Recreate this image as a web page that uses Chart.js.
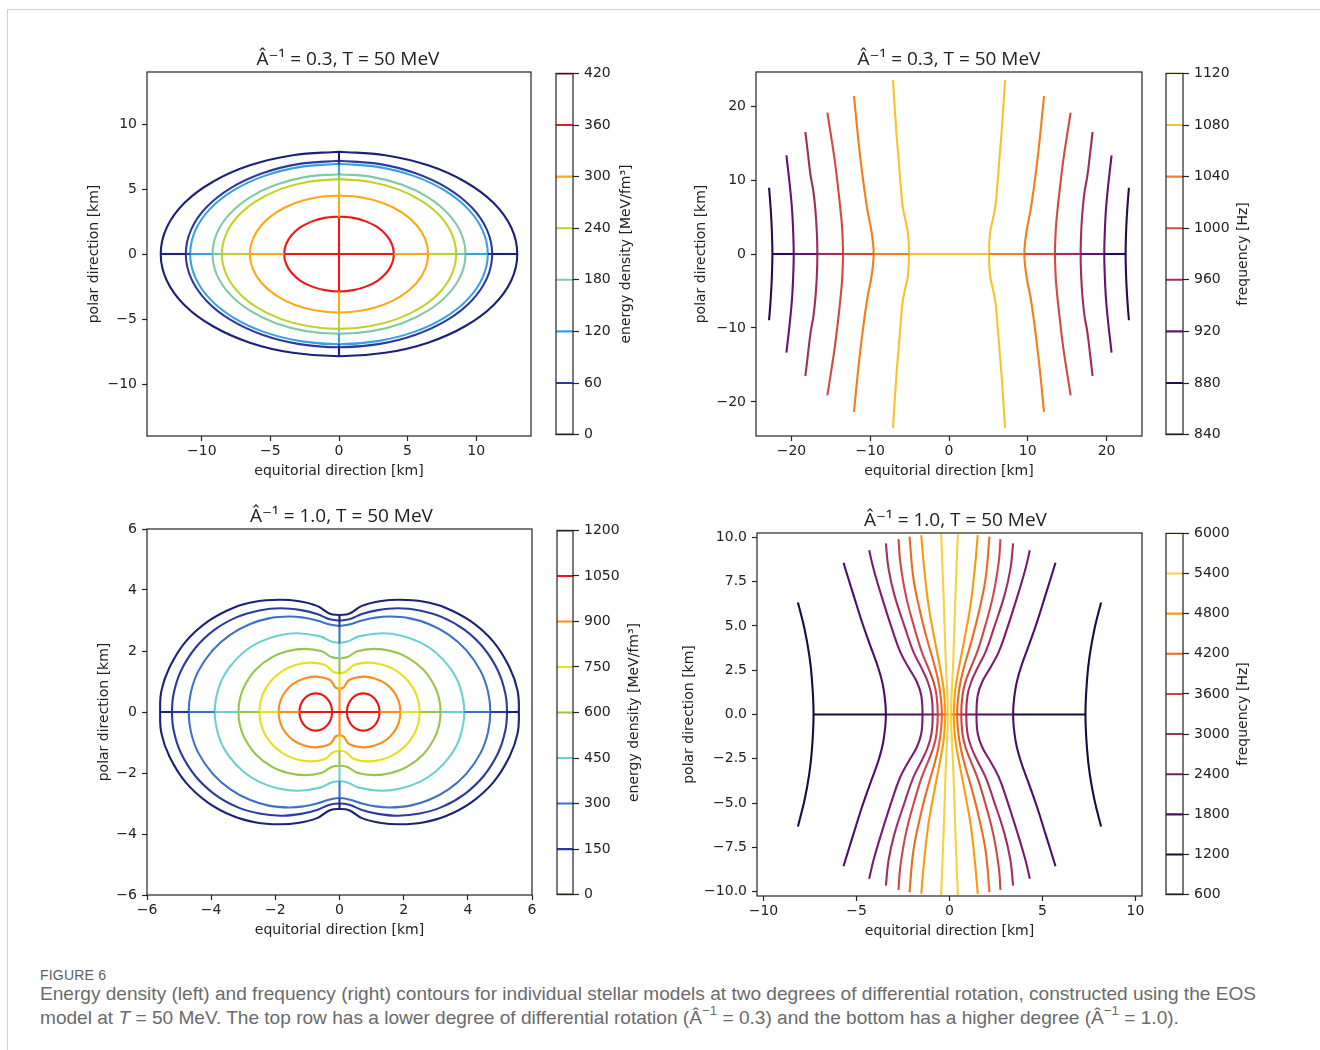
<!DOCTYPE html>
<html>
<head>
<meta charset="utf-8">
<script src="https://cdn.jsdelivr.net/npm/chart.js@4.4.1/dist/chart.umd.min.js"></script>
<style>
  html, body { margin: 0; padding: 0; background: #fff; }
  body { width: 1320px; height: 1050px; position: relative; overflow: hidden; }
  #sheet { position: absolute; left: 7px; top: 9px; width: 1400px; height: 1100px;
           border-left: 1px solid #cfcfcf; border-top: 1px solid #cfcfcf; }
  canvas { position: absolute; }
  #figno { position: absolute; left: 40px; top: 967px; font: 14px "Liberation Sans Narrow", "Liberation Sans", sans-serif;
           color: #5e5e5e; letter-spacing: 0.2px; }
  #captext { position: absolute; left: 40px; top: 982px; font-family: "Liberation Sans Narrow", "Liberation Sans", sans-serif;
             font-size: 17px; line-height: 24px; color: #6a6a6a; white-space: nowrap; }
  #captext sup { font-size: 0.7em; line-height: 0; vertical-align: 0.7em; }
</style>
</head>
<body>
<div id="sheet"></div>
<canvas id="tl"></canvas>
<canvas id="tlBar"></canvas>
<canvas id="tr"></canvas>
<canvas id="trBar"></canvas>
<canvas id="bl"></canvas>
<canvas id="blBar"></canvas>
<canvas id="br"></canvas>
<canvas id="brBar"></canvas>
<div id="figno">FIGURE 6</div>
<div id="captext"><span id="capLine1">Energy density (left) and frequency (right) contours for individual stellar models at two degrees of differential rotation, constructed using the EOS</span><br>model at <i>T</i> = 50 MeV. The top row has a lower degree of differential rotation (Â<sup>−1</sup> = 0.3) and the bottom has a higher degree (Â<sup>−1</sup> = 1.0).</div>

<script>
// ---------- top row, A^-1 = 0.3 ----------
// energy density: one quarter of each ring (x >= 0, y >= 0), from the polar axis down to the equator
const edLevelsTop = [0, 60, 120, 180, 240, 300, 360];
const edRingsTop = [
  [[0, 7.87], [3.37, 7.6], [6.5, 6.82], [9.19, 5.56], [11.26, 3.94], [12.56, 2.04], [13.0, 0]],
  [[0, 7.17], [2.89, 6.93], [5.59, 6.21], [7.9, 5.07], [9.67, 3.59], [10.79, 1.86], [11.17, 0]],
  [[0, 6.94], [2.81, 6.7], [5.43, 6.01], [7.67, 4.91], [9.4, 3.47], [10.48, 1.8], [10.85, 0]],
  [[0, 6.14], [2.39, 5.93], [4.61, 5.32], [6.52, 4.34], [7.98, 3.07], [8.91, 1.59], [9.22, 0]],
  [[0, 5.76], [2.21, 5.56], [4.27, 4.99], [6.04, 4.07], [7.4, 2.88], [8.25, 1.49], [8.54, 0]],
  [[0, 4.5], [1.68, 4.35], [3.25, 3.9], [4.6, 3.18], [5.63, 2.25], [6.28, 1.17], [6.5, 0]],
  [[0, 2.88], [1.04, 2.78], [2.0, 2.49], [2.83, 2.04], [3.46, 1.44], [3.86, 0.75], [4.0, 0]]
];
const edTicksTop = [0, 60, 120, 180, 240, 300, 360, 420];

// frequency: upper half of the right-hand branch of each level, from the equator up
const fqLevelsTop = [880, 920, 960, 1000, 1040, 1080];
const fqBranchesTop = [
  [[22.42, 0], [22.46, 2.3], [22.55, 4.6], [22.68, 6.8], [22.84, 8.96]],
  [[19.71, 0], [19.78, 3.0], [19.92, 5.95], [20.2, 9.2], [20.64, 13.33]],
  [[16.71, 0], [16.78, 3.0], [16.96, 5.95], [17.22, 8.5], [17.55, 10.45], [17.9, 13.5], [18.23, 16.49]],
  [[13.45, 0], [13.5, 2.0], [13.6, 4.0], [14.0, 8.2], [14.51, 12.7], [14.98, 16.0], [15.44, 19.1]],
  [[9.56, 0], [9.69, 1.89], [9.94, 3.69], [10.36, 5.95], [10.96, 10.45], [11.46, 14.95], [11.8, 18.5], [12.06, 21.35]],
  [[5.08, 0], [5.2, 2.79], [5.54, 4.59], [5.88, 6.4], [6.05, 8.2], [6.39, 12.7], [6.73, 17.2], [7.11, 23.5]]
];
const fqTicksTop = [840, 880, 920, 960, 1000, 1040, 1080, 1120];

// ---------- bottom row, A^-1 = 1.0 ----------
const edLevelsBot = [0, 150, 300, 450, 600, 750, 900];
const edRingsBot = [
  [[0, 3.18], [0.3, 3.22], [0.7, 3.48], [1.3, 3.64], [1.9, 3.68], [2.6, 3.62], [3.3, 3.42], [4.1, 2.97], [4.8, 2.3], [5.3, 1.46], [5.55, 0.7], [5.59, 0]],
  [[0, 3.0], [0.3, 3.04], [0.7, 3.21], [1.2, 3.34], [1.82, 3.4], [2.5, 3.33], [3.2, 3.11], [3.9, 2.69], [4.5, 2.09], [4.95, 1.33], [5.17, 0.6], [5.22, 0]],
  [[0, 2.82], [0.3, 2.87], [0.7, 3.0], [1.1, 3.09], [1.57, 3.13], [2.2, 3.07], [2.8, 2.88], [3.4, 2.54], [3.95, 2.03], [4.4, 1.34], [4.63, 0.66], [4.7, 0]],
  [[0, 2.27], [0.25, 2.31], [0.6, 2.48], [1.31, 2.58], [1.9, 2.51], [2.5, 2.29], [3.0, 1.95], [3.45, 1.44], [3.75, 0.84], [3.89, 0]],
  [[0, 1.76], [0.25, 1.8], [0.55, 1.99], [1.08, 2.07], [1.6, 2.0], [2.1, 1.8], [2.6, 1.4], [2.95, 0.88], [3.1, 0.45], [3.15, 0]],
  [[0, 1.27], [0.2, 1.32], [0.45, 1.54], [0.88, 1.62], [1.35, 1.55], [1.8, 1.33], [2.15, 1.0], [2.4, 0.56], [2.5, 0]],
  [[0, 0.77], [0.12, 0.8], [0.3, 1.05], [0.74, 1.16], [1.1, 1.1], [1.45, 0.92], [1.7, 0.65], [1.85, 0.34], [1.9, 0]]
];
// the highest level closes into two separate cores; upper half of the right one
const edCoreLevelBot = 1050;
const edCoreBot = [[0.23, 0], [0.247, 0.158], [0.3, 0.305], [0.379, 0.431], [0.485, 0.528], [0.608, 0.589], [0.74, 0.61],
                   [0.872, 0.589], [0.995, 0.528], [1.101, 0.431], [1.18, 0.305], [1.233, 0.158], [1.25, 0]];
const edTicksBot = [0, 150, 300, 450, 600, 750, 900, 1050, 1200];

const fqLevelsBot = [1200, 1800, 2400, 3000, 3600, 4200, 4800, 5400];
const fqBranchesBot = [
  [[7.31, 0], [7.4, 2.03], [7.54, 3.35], [7.8, 4.86], [8.15, 6.33]],
  [[3.42, 0], [3.55, 1.47], [3.82, 2.6], [4.27, 3.92], [4.71, 5.24], [5.16, 6.74], [5.7, 8.57]],
  [[1.45, 0], [1.52, 1.09], [1.76, 1.85], [2.17, 2.6], [2.65, 3.54], [3.1, 4.86], [3.67, 6.74], [4.09, 8.25], [4.32, 9.28]],
  [[0.9, 0], [0.97, 1.09], [1.17, 1.85], [1.49, 2.6], [1.94, 3.54], [2.38, 4.86], [2.96, 6.74], [3.28, 8.25], [3.42, 9.66]],
  [[0.63, 0], [0.7, 1.09], [0.86, 1.85], [1.13, 2.6], [1.49, 3.54], [1.88, 4.86], [2.35, 6.74], [2.65, 8.63], [2.74, 9.9]],
  [[0.41, 0], [0.48, 1.09], [0.63, 2.03], [0.86, 2.98], [1.22, 4.29], [1.58, 5.8], [1.94, 7.68], [2.15, 10.04]],
  [[0.23, 0], [0.32, 1.47], [0.5, 2.6], [0.81, 4.29], [1.13, 6.18], [1.36, 8.25], [1.52, 10.13]],
  [[0.09, 0], [0.2, 2.98], [0.32, 6.74], [0.45, 10.2]]
];
const fqTicksBot = [600, 1200, 1800, 2400, 3000, 3600, 4200, 4800, 5400, 6000];

// axis ticks
const xTicksTL = [-10, -5, 0, 5, 10], yTicksTL = [-10, -5, 0, 5, 10];
const xTicksTR = [-20, -10, 0, 10, 20], yTicksTR = [-20, -10, 0, 10, 20];
const xTicksBL = [-6, -4, -2, 0, 2, 4, 6], yTicksBL = [-6, -4, -2, 0, 2, 4, 6];
const xTicksBR = [-10, -5, 0, 5, 10], yTicksBR = [-10, -7.5, -5, -2.5, 0, 2.5, 5, 7.5, 10];

// colour of each colorbar tick (same order as the tick arrays)
const edColorsTop = ['#1c2178', '#2c3a9c', '#3aa0e4', '#7fc9a4', '#c0d22a', '#ffa812', '#ee1818', '#7f0000'];
const edColorsBot = ['#1c2178', '#2b3b9e', '#3b72c6', '#6ecfd0', '#98c44c', '#e6e020', '#ff8c1a', '#ee1414', '#7f0000'];
const fqColorsTop = ['#000004', '#290b4d', '#64156d', '#9f2b61', '#d34942', '#f47e17', '#f9c22c', '#fcffa4'];
const fqColorsBot = ['#000004', '#1b0b3e', '#4b0d69', '#781c6c', '#a52d5f', '#ce4645', '#ec6b24', '#fa9b0d', '#f7d23f', '#fcffa4'];

Chart.defaults.font.family = '"DejaVu Sans", sans-serif';
Chart.defaults.font.size = 14;
Chart.defaults.color = '#222';
Chart.defaults.animation = false;
Chart.defaults.events = [];
Chart.defaults.plugins.legend.display = false;
Chart.defaults.plugins.tooltip.enabled = false;

const pt = (x, y) => ({ x, y });
const minus = v => String(v).replace('-', '\u2212');

function curve(points, color, smooth) {
  return { data: points, borderColor: color, borderWidth: 2.1, pointRadius: 0, showLine: true,
           tension: smooth ? 0.4 : 0, borderJoinStyle: 'round', fill: false };
}

// full closed ring from its first quarter
function ring(q) {
  const back = q.slice().reverse();
  return q.map(p => pt(p[0], p[1]))
    .concat(back.slice(1).map(p => pt(p[0], -p[1])))
    .concat(q.slice(1).map(p => pt(-p[0], -p[1])))
    .concat(back.slice(1).map(p => pt(-p[0], p[1])));
}

// right and left closed cores from the upper half of the right one
function cores(h) {
  const right = h.map(p => pt(p[0], p[1])).concat(h.slice().reverse().slice(1).map(p => pt(p[0], -p[1])));
  return [right, right.map(p => pt(-p.x, p.y))];
}

// right and left branches from the upper half of the right one
function branches(h) {
  const right = h.slice().reverse().map(p => pt(p[0], -p[1])).concat(h.slice(1).map(p => pt(p[0], p[1])));
  return [right, right.map(p => pt(-p.x, p.y))];
}

// pieces of the contour set lying on an axis: between each crossing and the next one inwards
function axisPieces(cross, levels, color, horizontal) {
  const out = [];
  const seg = (a, b) => horizontal ? [pt(a, 0), pt(b, 0)] : [pt(0, a), pt(0, b)];
  cross.forEach((v, i) => {
    const c = color(levels[i]);
    if (i < cross.length - 1) {
      out.push(curve(seg(v, cross[i + 1]), c, false));
      out.push(curve(seg(-v, -cross[i + 1]), c, false));
    } else {
      out.push(curve(seg(v, -v), c, false));
    }
  });
  return out;
}

function axisOpts(pos, range, ticks, title, size, titlePad, fmt) {
  return {
    type: 'linear', position: pos, min: range[0], max: range[1],
    afterBuildTicks: s => { s.ticks = ticks.map(v => ({ value: v })); },
    afterFit: s => { if (s.isHorizontal()) s.height = size; else s.width = size; },
    grid: { drawOnChartArea: false, drawTicks: true, tickLength: 5, tickWidth: 1.2, tickColor: '#222' },
    border: { display: false },
    ticks: { padding: pos === 'bottom' ? 2 : 5, autoSkip: false, maxRotation: 0, callback: v => fmt(v) },
    title: { display: true, text: title, color: '#222', padding: titlePad }
  };
}

function frame() {
  return { id: 'frame', afterDatasetsDraw(chart) {
    const { ctx, chartArea: a } = chart;
    ctx.save();
    ctx.strokeStyle = '#222';
    ctx.lineWidth = 1.2;
    ctx.strokeRect(a.left, a.top, a.right - a.left, a.bottom - a.top);
    ctx.restore();
  } };
}

function heading(text, dx) {
  return { id: 'heading', afterDraw(chart) {
    const { ctx, chartArea: a } = chart;
    ctx.save();
    ctx.font = '19px "Open Sans", "DejaVu Sans", sans-serif';
    ctx.fillStyle = '#222';
    ctx.textAlign = 'center';
    ctx.textBaseline = 'alphabetic';
    ctx.fillText(text, (a.left + a.right) / 2 + dx, a.top - 7);
    ctx.restore();
  } };
}

function makePlot(id, box, spec) {
  const cv = document.getElementById(id);
  const left = Math.round(box.yTitleX - 14), top = box.t - 40;
  const right = box.r + 16, bottom = Math.round(box.xTitleY + 12);
  cv.width = right - left;
  cv.height = bottom - top;
  cv.style.left = left + 'px';
  cv.style.top = top + 'px';
  new Chart(cv, {
    type: 'scatter',
    data: { datasets: spec.datasets },
    options: {
      responsive: false,
      layout: { padding: { left: 0, top: 40, right: 16, bottom: 0 } },
      scales: {
        x: axisOpts('bottom', spec.xRange, spec.xTicks, 'equitorial direction [km]', bottom - box.b,
                    { top: 0, bottom: bottom - box.xTitleY - 8.4 }, spec.xFmt || minus),
        y: axisOpts('left', spec.yRange, spec.yTicks, 'polar direction [km]', box.l - left,
                    { top: box.yTitleX - left - 8.4, bottom: 0 }, spec.yFmt || minus)
      }
    },
    plugins: [frame(), heading(spec.title, spec.titleDx)]
  });
}

function makeBar(id, box, ticks, colors, label) {
  const cv = document.getElementById(id);
  const left = box.l - 8, top = box.t - 12, right = Math.round(box.titleX + 14), bottom = box.b + 12;
  cv.width = right - left;
  cv.height = bottom - top;
  cv.style.left = left + 'px';
  cv.style.top = top + 'px';
  const barLabel = { id: 'barLabel', afterDraw(chart) {
    const { ctx, chartArea: a } = chart;
    ctx.save();
    ctx.font = '14px "DejaVu Sans", sans-serif';
    ctx.fillStyle = '#222';
    ctx.textAlign = 'center';
    ctx.textBaseline = 'middle';
    ctx.translate(box.titleX - left, (a.top + a.bottom) / 2);
    ctx.rotate(-Math.PI / 2);
    ctx.fillText(label, 0, 0);
    ctx.restore();
  } };
  new Chart(cv, {
    type: 'scatter',
    data: { datasets: ticks.map((v, i) => curve([pt(0, v), pt(1, v)], colors[i], false)) },
    options: {
      responsive: false,
      layout: { padding: { left: 8, top: 12, right: 0, bottom: 12 } },
      scales: {
        x: { display: false, min: 0, max: 1 },
        y: {
          type: 'linear', position: 'right', min: ticks[0], max: ticks[ticks.length - 1],
          afterBuildTicks: s => { s.ticks = ticks.map(v => ({ value: v })); },
          afterFit: s => { s.width = right - box.r; },
          grid: { drawOnChartArea: false, tickLength: 6, tickWidth: 1.2, tickColor: '#222' },
          border: { display: false },
          ticks: { padding: 5, autoSkip: false, callback: v => String(v) }
        }
      }
    },
    plugins: [frame(), barLabel]
  });
}

function colorFor(ticks, colors) { return lvl => colors[ticks.indexOf(lvl)]; }

// ---- top left ----
{
  const col = colorFor(edTicksTop, edColorsTop);
  const sets = []
    .concat(axisPieces(edRingsTop.map(q => q[q.length - 1][0]), edLevelsTop, col, true))
    .concat(axisPieces(edRingsTop.map(q => q[0][1]), edLevelsTop, col, false))
    .concat(edRingsTop.map((q, i) => curve(ring(q), col(edLevelsTop[i]), true)));
  makePlot('tl', { l: 147, t: 72, r: 531, b: 436, yTitleX: 94, xTitleY: 471.5 },
    { datasets: sets, xRange: [-14, 14], yRange: [-14, 14], xTicks: xTicksTL, yTicks: yTicksTL,
      title: '\u00C2\u207B\u00B9 = 0.3, T = 50 MeV', titleDx: 9 });
  makeBar('tlBar', { l: 556, t: 72, r: 573, b: 436, titleX: 626 }, edTicksTop, edColorsTop, 'energy density [MeV/fm\u00B3]');
}

// ---- top right ----
{
  const col = colorFor(fqTicksTop, fqColorsTop);
  const sets = axisPieces(fqBranchesTop.map(h => h[0][0]), fqLevelsTop, col, true);
  fqBranchesTop.forEach((h, i) => branches(h).forEach(b => sets.push(curve(b, col(fqLevelsTop[i]), true))));
  makePlot('tr', { l: 756, t: 72, r: 1142, b: 436, yTitleX: 701, xTitleY: 471.5 },
    { datasets: sets, xRange: [-24.5, 24.5], yRange: [-24.6, 24.6], xTicks: xTicksTR, yTicks: yTicksTR,
      title: '\u00C2\u207B\u00B9 = 0.3, T = 50 MeV', titleDx: 0 });
  makeBar('trBar', { l: 1166, t: 72, r: 1183, b: 436, titleX: 1243 }, fqTicksTop, fqColorsTop, 'frequency [Hz]');
}

// ---- bottom left ----
{
  const col = colorFor(edTicksBot, edColorsBot);
  const xCross = edRingsBot.map(q => q[q.length - 1][0]).concat([edCoreBot[edCoreBot.length - 1][0]]);
  const sets = []
    .concat(axisPieces(xCross, edLevelsBot.concat([edCoreLevelBot]), col, true))
    .concat(axisPieces(edRingsBot.map(q => q[0][1]), edLevelsBot, col, false))
    .concat(edRingsBot.map((q, i) => curve(ring(q), col(edLevelsBot[i]), true)))
    .concat(cores(edCoreBot).map(c => curve(c, col(edCoreLevelBot), true)));
  makePlot('bl', { l: 147, t: 529, r: 532, b: 895, yTitleX: 104, xTitleY: 930 },
    { datasets: sets, xRange: [-6, 6], yRange: [-6, 6], xTicks: xTicksBL, yTicks: yTicksBL,
      title: '\u00C2\u207B\u00B9 = 1.0, T = 50 MeV', titleDx: 2 });
  makeBar('blBar', { l: 557, t: 529, r: 573, b: 896, titleX: 634 }, edTicksBot, edColorsBot, 'energy density [MeV/fm\u00B3]');
}

// ---- bottom right ----
{
  const col = colorFor(fqTicksBot, fqColorsBot);
  const sets = axisPieces(fqBranchesBot.map(h => h[0][0]), fqLevelsBot, col, true);
  fqBranchesBot.forEach((h, i) => branches(h).forEach(b => sets.push(curve(b, col(fqLevelsBot[i]), true))));
  makePlot('br', { l: 757, t: 533, r: 1142, b: 896, yTitleX: 689, xTitleY: 931 },
    { datasets: sets, xRange: [-10.35, 10.35], yRange: [-10.25, 10.25], xTicks: xTicksBR, yTicks: yTicksBR,
      yFmt: v => minus(v.toFixed(1)), title: '\u00C2\u207B\u00B9 = 1.0, T = 50 MeV', titleDx: 6 });
  makeBar('brBar', { l: 1166, t: 532, r: 1183, b: 896, titleX: 1243 }, fqTicksBot, fqColorsBot, 'frequency [Hz]');
}

// caption: first line runs from x = 40 to about x = 1256
{
  const line1 = document.getElementById('capLine1');
  const cap = document.getElementById('captext');
  const w = line1.getBoundingClientRect().width;
  cap.style.fontSize = (17 * 1216 / w).toFixed(2) + 'px';
}
</script>
</body>
</html>
